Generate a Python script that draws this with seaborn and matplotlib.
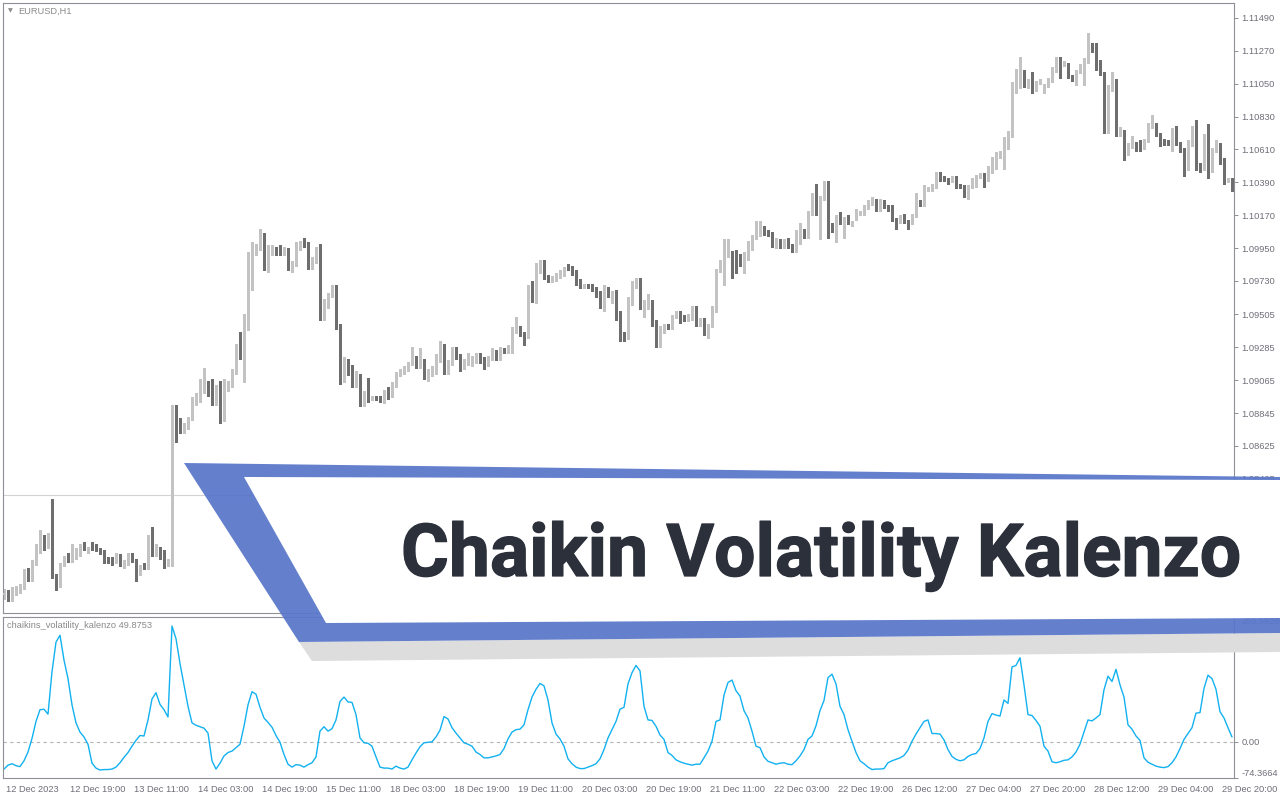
import numpy as np
import pandas as pd
import seaborn as sns
import matplotlib
matplotlib.use("Agg")
import matplotlib.pyplot as plt
import matplotlib.transforms as mtransforms
import matplotlib.patheffects as pe
from matplotlib.patches import Polygon

# ---- EURUSD H1 candles (bar 0 = 12 Dec 2023) ----
OPEN = [
    1.0763, 1.0764, 1.0760, 1.0764, 1.0765, 1.0768, 1.0778, 1.0777, 1.0784, 1.0792,
    1.0800, 1.0795, 1.0797, 1.0776, 1.0773, 1.0783, 1.0788, 1.0786, 1.0789, 1.0790,
    1.0796, 1.0792, 1.0797, 1.0796, 1.0793, 1.0792, 1.0787, 1.0786, 1.0785, 1.0789,
    1.0783, 1.0784, 1.0788, 1.0786, 1.0777, 1.0783, 1.0781, 1.0799, 1.0790, 1.0793,
    1.0792, 1.0783, 1.0784, 1.0887, 1.0880, 1.0873, 1.0876, 1.0881, 1.0892, 1.0895,
    1.0902, 1.0905, 1.0899, 1.0893, 1.0901, 1.0880, 1.0900, 1.0903, 1.0912, 1.0929,
    1.0923, 1.0943, 1.0990, 1.0992, 1.0995, 1.1004, 1.0983, 1.0993, 1.0994, 1.0995,
    1.0992, 1.0993, 1.0981, 1.0984, 1.0996, 1.0999, 1.0997, 1.0984, 1.0987, 1.0993,
    1.0955, 1.0959, 1.0963, 1.0968, 1.0943, 1.0916, 1.0919, 1.0915, 1.0905, 1.0910,
    1.0892, 1.0898, 1.0894, 1.0895, 1.0895, 1.0893, 1.0900, 1.0896, 1.0904, 1.0910,
    1.0912, 1.0914, 1.0918, 1.0921, 1.0917, 1.0919, 1.0910, 1.0911, 1.0912, 1.0920,
    1.0929, 1.0913, 1.0918, 1.0927, 1.0923, 1.0916, 1.0918, 1.0918, 1.0919, 1.0923,
    1.0920, 1.0917, 1.0921, 1.0925, 1.0922, 1.0927, 1.0927, 1.0927, 1.0940, 1.0941,
    1.0938, 1.0936, 1.0968, 1.0961, 1.0979, 1.0986, 1.0976, 1.0974, 1.0974, 1.0976,
    1.0977, 1.0983, 1.0982, 1.0979, 1.0973, 1.0969, 1.0970, 1.0970, 1.0968, 1.0964,
    1.0958, 1.0966, 1.0960, 1.0964, 1.0952, 1.0937, 1.0936, 1.0960, 1.0969, 1.0974,
    1.0955, 1.0957, 1.0959, 1.0946, 1.0930, 1.0939, 1.0943, 1.0942, 1.0949, 1.0952,
    1.0949, 1.0948, 1.0948, 1.0954, 1.0944, 1.0947, 1.0938, 1.0943, 1.0953, 1.0980,
    1.0979, 1.0990, 1.0992, 1.0990, 1.0990, 1.0985, 1.0989, 1.0998, 1.1002, 1.1005,
    1.1008, 1.1006, 1.1005, 1.0997, 1.1000, 1.0997, 1.1000, 1.0997, 1.0993, 1.0999,
    1.1007, 1.1003, 1.1018, 1.1025, 1.1018, 1.1028, 1.1038, 1.1011, 1.1007, 1.1016,
    1.1012, 1.1016, 1.1011, 1.1016, 1.1018, 1.1018, 1.1022, 1.1025, 1.1027, 1.1021,
    1.1026, 1.1023, 1.1023, 1.1014, 1.1013, 1.1016, 1.1013, 1.1012, 1.1017, 1.1026,
    1.1024, 1.1034, 1.1034, 1.1036, 1.1044, 1.1042, 1.1041, 1.1040, 1.1042, 1.1037,
    1.1036, 1.1031, 1.1036, 1.1041, 1.1043, 1.1043, 1.1041, 1.1046, 1.1054, 1.1056,
    1.1058, 1.1068, 1.1070, 1.1104, 1.1107, 1.1113, 1.1104, 1.1107, 1.1101, 1.1106,
    1.1100, 1.1104, 1.1107, 1.1114, 1.1121, 1.1118, 1.1118, 1.1110, 1.1108, 1.1113,
    1.1116, 1.1120, 1.1129, 1.1128, 1.1120, 1.1112, 1.1073, 1.1101, 1.1107, 1.1071,
    1.1073, 1.1063, 1.1063, 1.1065, 1.1066, 1.1062, 1.1067, 1.1076, 1.1078, 1.1071,
    1.1067, 1.1066, 1.1065, 1.1073, 1.1065, 1.1061, 1.1048, 1.1064, 1.1076, 1.1051,
    1.1048, 1.1069, 1.1047, 1.1060, 1.1064, 1.1054, 1.1040, 1.1041,
]
HIGH = [
    1.0767, 1.0766, 1.0768, 1.0769, 1.0770, 1.0780, 1.0781, 1.0786, 1.0797, 1.0806,
    1.0803, 1.0804, 1.0827, 1.0777, 1.0784, 1.0789, 1.0791, 1.0797, 1.0794, 1.0797,
    1.0798, 1.0795, 1.0798, 1.0797, 1.0794, 1.0793, 1.0788, 1.0788, 1.0791, 1.0790,
    1.0786, 1.0791, 1.0791, 1.0787, 1.0783, 1.0784, 1.0803, 1.0808, 1.0797, 1.0795,
    1.0793, 1.0787, 1.0890, 1.0890, 1.0881, 1.0878, 1.0882, 1.0895, 1.0898, 1.0907,
    1.0915, 1.0906, 1.0907, 1.0903, 1.0906, 1.0907, 1.0906, 1.0914, 1.0931, 1.0939,
    1.0951, 1.0992, 1.0999, 1.0998, 1.1008, 1.1005, 1.0997, 1.0997, 1.0996, 1.0997,
    1.0996, 1.0995, 1.0986, 1.0999, 1.1000, 1.1002, 1.0999, 1.0989, 1.0996, 1.0998,
    1.0961, 1.0965, 1.0970, 1.0970, 1.0944, 1.0922, 1.0921, 1.0917, 1.0913, 1.0911,
    1.0899, 1.0908, 1.0896, 1.0896, 1.0896, 1.0900, 1.0902, 1.0905, 1.0912, 1.0914,
    1.0916, 1.0919, 1.0929, 1.0923, 1.0928, 1.0921, 1.0914, 1.0916, 1.0924, 1.0933,
    1.0931, 1.0920, 1.0929, 1.0929, 1.0924, 1.0921, 1.0925, 1.0923, 1.0925, 1.0925,
    1.0922, 1.0923, 1.0928, 1.0927, 1.0929, 1.0928, 1.0930, 1.0942, 1.0949, 1.0943,
    1.0939, 1.0970, 1.0973, 1.0985, 1.0987, 1.0987, 1.0977, 1.0976, 1.0978, 1.0980,
    1.0982, 1.0984, 1.0983, 1.0980, 1.0974, 1.0971, 1.0971, 1.0971, 1.0969, 1.0966,
    1.0970, 1.0969, 1.0966, 1.0967, 1.0953, 1.0939, 1.0962, 1.0973, 1.0975, 1.0975,
    1.0960, 1.0964, 1.0960, 1.0947, 1.0943, 1.0944, 1.0944, 1.0950, 1.0953, 1.0953,
    1.0950, 1.0951, 1.0956, 1.0956, 1.0948, 1.0948, 1.0944, 1.0956, 1.0981, 1.0987,
    1.1001, 1.1001, 1.0993, 1.0994, 1.0991, 1.0992, 1.1000, 1.1004, 1.1013, 1.1013,
    1.1010, 1.1007, 1.1006, 1.1002, 1.1001, 1.1001, 1.1002, 1.0998, 1.1007, 1.1012,
    1.1008, 1.1020, 1.1032, 1.1038, 1.1030, 1.1040, 1.1040, 1.1012, 1.1017, 1.1019,
    1.1016, 1.1017, 1.1013, 1.1021, 1.1020, 1.1024, 1.1027, 1.1029, 1.1028, 1.1028,
    1.1027, 1.1024, 1.1024, 1.1015, 1.1017, 1.1018, 1.1014, 1.1018, 1.1032, 1.1027,
    1.1037, 1.1036, 1.1038, 1.1046, 1.1046, 1.1043, 1.1042, 1.1043, 1.1043, 1.1038,
    1.1037, 1.1037, 1.1042, 1.1044, 1.1045, 1.1045, 1.1050, 1.1056, 1.1059, 1.1060,
    1.1069, 1.1073, 1.1106, 1.1115, 1.1123, 1.1114, 1.1108, 1.1113, 1.1107, 1.1108,
    1.1105, 1.1109, 1.1116, 1.1123, 1.1123, 1.1120, 1.1119, 1.1111, 1.1114, 1.1118,
    1.1122, 1.1139, 1.1132, 1.1132, 1.1121, 1.1113, 1.1104, 1.1113, 1.1108, 1.1076,
    1.1074, 1.1065, 1.1070, 1.1066, 1.1067, 1.1068, 1.1079, 1.1084, 1.1079, 1.1072,
    1.1068, 1.1067, 1.1075, 1.1077, 1.1066, 1.1062, 1.1067, 1.1077, 1.1081, 1.1052,
    1.1071, 1.1078, 1.1062, 1.1067, 1.1065, 1.1055, 1.1042, 1.1042,
]
LOW = [
    1.0760, 1.0759, 1.0759, 1.0763, 1.0764, 1.0767, 1.0772, 1.0772, 1.0783, 1.0791,
    1.0793, 1.0794, 1.0774, 1.0766, 1.0768, 1.0782, 1.0785, 1.0785, 1.0787, 1.0789,
    1.0793, 1.0791, 1.0793, 1.0792, 1.0790, 1.0784, 1.0784, 1.0783, 1.0784, 1.0782,
    1.0781, 1.0783, 1.0785, 1.0772, 1.0776, 1.0780, 1.0780, 1.0789, 1.0789, 1.0787,
    1.0781, 1.0782, 1.0782, 1.0865, 1.0871, 1.0871, 1.0874, 1.0880, 1.0890, 1.0892,
    1.0898, 1.0896, 1.0890, 1.0890, 1.0878, 1.0879, 1.0899, 1.0902, 1.0911, 1.0921,
    1.0905, 1.0940, 1.0967, 1.0990, 1.0994, 1.0980, 1.0979, 1.0990, 1.0990, 1.0990,
    1.0990, 1.0980, 1.0979, 1.0983, 1.0994, 1.0996, 1.0981, 1.0981, 1.0985, 1.0947,
    1.0947, 1.0955, 1.0962, 1.0941, 1.0904, 1.0905, 1.0910, 1.0902, 1.0902, 1.0889,
    1.0889, 1.0892, 1.0893, 1.0893, 1.0892, 1.0891, 1.0894, 1.0895, 1.0902, 1.0909,
    1.0911, 1.0913, 1.0917, 1.0915, 1.0915, 1.0907, 1.0906, 1.0909, 1.0911, 1.0919,
    1.0911, 1.0911, 1.0917, 1.0921, 1.0913, 1.0914, 1.0917, 1.0916, 1.0918, 1.0918,
    1.0914, 1.0916, 1.0920, 1.0920, 1.0920, 1.0925, 1.0925, 1.0925, 1.0938, 1.0936,
    1.0930, 1.0935, 1.0959, 1.0958, 1.0978, 1.0974, 1.0972, 1.0972, 1.0973, 1.0975,
    1.0976, 1.0980, 1.0977, 1.0970, 1.0968, 1.0968, 1.0968, 1.0966, 1.0962, 1.0955,
    1.0953, 1.0962, 1.0958, 1.0947, 1.0933, 1.0933, 1.0934, 1.0957, 1.0968, 1.0954,
    1.0949, 1.0954, 1.0943, 1.0929, 1.0929, 1.0938, 1.0941, 1.0941, 1.0948, 1.0945,
    1.0946, 1.0946, 1.0947, 1.0943, 1.0943, 1.0937, 1.0935, 1.0942, 1.0952, 1.0979,
    1.0970, 1.0989, 1.0975, 1.0978, 1.0983, 1.0978, 1.0987, 1.0994, 1.1001, 1.1003,
    1.1004, 1.1003, 1.0996, 1.0995, 1.0995, 1.0995, 1.0995, 1.0992, 1.0992, 1.0998,
    1.1002, 1.1002, 1.1017, 1.1017, 1.1001, 1.1027, 1.1002, 1.1006, 1.0999, 1.1011,
    1.1002, 1.1011, 1.1010, 1.1014, 1.1017, 1.1017, 1.1021, 1.1024, 1.1020, 1.1020,
    1.1022, 1.1020, 1.1013, 1.1008, 1.1012, 1.1012, 1.1008, 1.1011, 1.1016, 1.1023,
    1.1023, 1.1033, 1.1033, 1.1035, 1.1040, 1.1040, 1.1038, 1.1039, 1.1035, 1.1035,
    1.1029, 1.1028, 1.1035, 1.1036, 1.1042, 1.1036, 1.1040, 1.1045, 1.1048, 1.1055,
    1.1048, 1.1061, 1.1069, 1.1099, 1.1102, 1.1103, 1.1102, 1.1099, 1.1100, 1.1105,
    1.1099, 1.1103, 1.1106, 1.1113, 1.1109, 1.1117, 1.1109, 1.1107, 1.1104, 1.1112,
    1.1104, 1.1119, 1.1126, 1.1114, 1.1111, 1.1072, 1.1072, 1.1100, 1.1070, 1.1070,
    1.1054, 1.1057, 1.1062, 1.1060, 1.1060, 1.1061, 1.1066, 1.1075, 1.1070, 1.1063,
    1.1064, 1.1064, 1.1060, 1.1064, 1.1059, 1.1043, 1.1047, 1.1063, 1.1047, 1.1046,
    1.1047, 1.1042, 1.1046, 1.1059, 1.1051, 1.1038, 1.1039, 1.1033,
]
CLOSE = [
    1.0764, 1.0760, 1.0767, 1.0767, 1.0768, 1.0778, 1.0776, 1.0784, 1.0792, 1.0800,
    1.0795, 1.0797, 1.0775, 1.0772, 1.0783, 1.0787, 1.0786, 1.0792, 1.0792, 1.0795,
    1.0794, 1.0794, 1.0794, 1.0793, 1.0791, 1.0786, 1.0786, 1.0785, 1.0789, 1.0783,
    1.0784, 1.0788, 1.0786, 1.0777, 1.0782, 1.0781, 1.0799, 1.0790, 1.0794, 1.0791,
    1.0783, 1.0785, 1.0887, 1.0880, 1.0873, 1.0876, 1.0881, 1.0893, 1.0895, 1.0903,
    1.0904, 1.0898, 1.0892, 1.0901, 1.0880, 1.0901, 1.0903, 1.0913, 1.0929, 1.0922,
    1.0943, 1.0990, 1.0992, 1.0996, 1.1004, 1.0982, 1.0995, 1.0994, 1.0992, 1.0992,
    1.0994, 1.0982, 1.0984, 1.0997, 1.0998, 1.0997, 1.0983, 1.0987, 1.0993, 1.0955,
    1.0959, 1.0963, 1.0968, 1.0943, 1.0916, 1.0919, 1.0916, 1.0905, 1.0910, 1.0892,
    1.0898, 1.0894, 1.0895, 1.0894, 1.0893, 1.0899, 1.0896, 1.0904, 1.0911, 1.0912,
    1.0915, 1.0918, 1.0921, 1.0917, 1.0919, 1.0910, 1.0912, 1.0913, 1.0921, 1.0929,
    1.0913, 1.0918, 1.0927, 1.0922, 1.0916, 1.0919, 1.0923, 1.0921, 1.0923, 1.0919,
    1.0917, 1.0921, 1.0925, 1.0922, 1.0927, 1.0926, 1.0928, 1.0941, 1.0941, 1.0938,
    1.0936, 1.0968, 1.0961, 1.0979, 1.0986, 1.0976, 1.0974, 1.0975, 1.0976, 1.0978,
    1.0980, 1.0981, 1.0979, 1.0972, 1.0970, 1.0970, 1.0969, 1.0968, 1.0964, 1.0958,
    1.0967, 1.0964, 1.0964, 1.0951, 1.0936, 1.0936, 1.0960, 1.0970, 1.0974, 1.0955,
    1.0958, 1.0960, 1.0946, 1.0930, 1.0941, 1.0943, 1.0942, 1.0949, 1.0952, 1.0948,
    1.0948, 1.0949, 1.0955, 1.0944, 1.0946, 1.0938, 1.0943, 1.0954, 1.0980, 1.0981,
    1.0990, 1.0992, 1.0989, 1.0989, 1.0985, 1.0990, 1.0999, 1.1003, 1.1012, 1.1008,
    1.1005, 1.1004, 1.0997, 1.1000, 1.0996, 1.1000, 1.0996, 1.0993, 1.1000, 1.1007,
    1.1003, 1.1019, 1.1025, 1.1018, 1.1029, 1.1036, 1.1011, 1.1007, 1.1016, 1.1012,
    1.1015, 1.1012, 1.1012, 1.1019, 1.1019, 1.1022, 1.1026, 1.1028, 1.1021, 1.1027,
    1.1023, 1.1021, 1.1014, 1.1013, 1.1016, 1.1013, 1.1012, 1.1017, 1.1026, 1.1024,
    1.1034, 1.1035, 1.1036, 1.1044, 1.1042, 1.1041, 1.1040, 1.1041, 1.1036, 1.1036,
    1.1030, 1.1036, 1.1041, 1.1043, 1.1044, 1.1040, 1.1046, 1.1054, 1.1056, 1.1059,
    1.1068, 1.1070, 1.1105, 1.1107, 1.1113, 1.1104, 1.1107, 1.1101, 1.1106, 1.1107,
    1.1104, 1.1108, 1.1115, 1.1121, 1.1118, 1.1118, 1.1110, 1.1108, 1.1113, 1.1116,
    1.1121, 1.1129, 1.1127, 1.1120, 1.1112, 1.1073, 1.1103, 1.1107, 1.1071, 1.1073,
    1.1063, 1.1064, 1.1066, 1.1061, 1.1061, 1.1067, 1.1076, 1.1078, 1.1071, 1.1064,
    1.1065, 1.1065, 1.1074, 1.1065, 1.1060, 1.1048, 1.1065, 1.1076, 1.1051, 1.1047,
    1.1069, 1.1046, 1.1061, 1.1064, 1.1052, 1.1039, 1.1041, 1.1038,
]

# chaikins_volatility_kalenzo, one value per bar
INDICATOR = [
    -56, -48, -45, -49, -51, -39, -21, 7, 42, 66,
    67, 57, 144, 205, 219, 168, 130, 76, 39, 20,
    10, -5, -44, -54, -58, -57, -57, -56, -52, -43,
    -32, -22, -9, 3, 13, 12, 45, 88, 101, 77,
    66, 51, 238, 212, 161, 117, 73, 39, 34, 31,
    28, 18, -39, -56, -44, -29, -22, -19, -12, -5,
    32, 76, 103, 98, 71, 49, 40, 30, 13, -1,
    -26, -46, -52, -47, -48, -52, -47, -43, -31, 22,
    31, 22, 27, 45, 83, 92, 82, 81, 56, 8,
    -2, -3, -9, -31, -52, -54, -54, -56, -50, -54,
    -56, -52, -37, -23, -10, -2, -1, 0, 10, 24,
    52, 47, 29, 18, 8, -2, -5, -9, -21, -26,
    -33, -33, -31, -29, -26, -14, 6, 20, 25, 26,
    35, 66, 92, 108, 120, 115, 86, 39, 16, 6,
    -9, -35, -45, -52, -55, -55, -52, -49, -45, -35,
    -16, 8, 25, 42, 67, 71, 119, 142, 157, 146,
    73, 45, 44, 32, 14, 5, -22, -28, -37, -41,
    -44, -46, -48, -46, -46, -33, -19, 1, 42, 45,
    96, 122, 127, 105, 94, 64, 49, 22, -9, -12,
    -31, -40, -43, -46, -44, -43, -46, -47, -39, -29,
    -16, 5, 12, 33, 64, 85, 132, 139, 119, 73,
    56, 25, 1, -22, -39, -45, -52, -57, -56, -56,
    -55, -43, -39, -36, -33, -28, -17, 1, 16, 29,
    42, 45, 17, 17, 16, 4, -16, -30, -36, -39,
    -37, -30, -26, -24, -14, 8, 42, 58, 55, 53,
    86, 79, 154, 157, 173, 117, 56, 54, 44, 32,
    -9, -19, -41, -43, -41, -38, -37, -31, -21, -5,
    20, 45, 43, 49, 56, 107, 135, 124, 149, 117,
    92, 35, 26, 12, 3, -33, -42, -46, -50, -52,
    -53, -51, -43, -31, -14, 5, 17, 29, 59, 60,
    110, 137, 130, 108, 62, 49, 29, 10,
]

PRICE_TICKS = [1.11490, 1.11270, 1.11050, 1.10830, 1.10610, 1.10390, 1.10170,
               1.09950, 1.09730, 1.09505, 1.09285, 1.09065, 1.08845, 1.08625,
               1.08405, 1.08185, 1.07965, 1.07745]
PRICE_LIMITS = (1.07507, 1.11590)
HLINE_PRICE = 1.0830

IND_TICKS = [256.5926, 0.0, -74.3664]
IND_TICK_LABELS = ["256.5926", "0.00", "-74.3664"]
IND_LIMITS = (-74.3664, 256.5926)

TIME_TICK_BARS = list(range(0, 305, 16))
TIME_LABELS = ["12 Dec 2023", "12 Dec 19:00", "13 Dec 11:00", "14 Dec 03:00",
               "14 Dec 19:00", "15 Dec 11:00", "18 Dec 03:00", "18 Dec 19:00",
               "19 Dec 11:00", "20 Dec 03:00", "20 Dec 19:00", "21 Dec 11:00",
               "22 Dec 03:00", "22 Dec 19:00", "26 Dec 12:00", "27 Dec 04:00",
               "27 Dec 20:00", "28 Dec 12:00", "29 Dec 04:00", "29 Dec 20:00"]

SYMBOL = "EURUSD,H1"
IND_NAME = "chaikins_volatility_kalenzo 49.8753"
TITLE = "Chaikin Volatility Kalenzo"

assert len(OPEN) == len(HIGH) == len(LOW) == len(CLOSE) == len(INDICATOR) == 308

# colours
BULL = "#c3c3c3"
BEAR = "#6e6e6e"
FRAME = "#8f8f97"
LABEL = "#6e6e78"
LINE = "#12b1f0"
BLUE = "#5876ca"
INK = "#2b303b"

sns.set_theme(style="white")
plt.rcParams["font.family"] = ["Liberation Sans", "DejaVu Sans"]

W, H = 1280, 800
fig = plt.figure(figsize=(W / 100, H / 100), dpi=100, facecolor="white")


def axes_px(left, top, right, bottom):
    return fig.add_axes([left / W, 1 - bottom / H, (right - left) / W, (bottom - top) / H])


ax = axes_px(3, 3, 1234, 613)
ax_ind = axes_px(3, 617, 1234, 778)

# price panel: candles
df = pd.DataFrame({"open": OPEN, "high": HIGH, "low": LOW, "close": CLOSE})
df["bar"] = np.arange(len(df))
colors = np.where(df["close"] >= df["open"], BULL, BEAR)
body_low = df[["open", "close"]].min(axis=1)
body_h = (df["close"] - df["open"]).abs().clip(lower=0.00008)

ax.axhline(HLINE_PRICE, color="#d4d4d4", lw=0.8, zorder=1)
ax.vlines(df["bar"], df["low"], df["high"], colors=colors, lw=0.75, zorder=2,
          antialiased=False)
ax.bar(df["bar"], body_h, bottom=body_low, width=0.75, color=colors, lw=0,
       zorder=3, antialiased=False)

# indicator panel
ind = pd.DataFrame({"bar": np.arange(len(INDICATOR)), "value": INDICATOR})
ax_ind.axhline(0, color="#b4b4b4", lw=0.8, ls=(0, (3, 3)), zorder=1)
sns.lineplot(data=ind, x="bar", y="value", ax=ax_ind, color=LINE, lw=1.0, zorder=2)

for a in (ax, ax_ind):
    a.set_xlim(-0.25, 307.5)
    a.set_facecolor("white")
    a.set_xlabel("")
    a.set_ylabel("")
    for s in a.spines.values():
        s.set_visible(True)
        s.set_color(FRAME)
        s.set_linewidth(0.8)
    a.yaxis.tick_right()
    a.tick_params(axis="y", direction="out", length=3, width=0.7, color=FRAME,
                  labelsize=6.7, labelcolor=LABEL, pad=2.5)

ax.set_ylim(*PRICE_LIMITS)
ax.set_yticks(PRICE_TICKS, [f"{p:.5f}" for p in PRICE_TICKS])
ax.set_xticks([])

ax_ind.set_ylim(*IND_LIMITS)
ax_ind.set_yticks(IND_TICKS, IND_TICK_LABELS)
ind_lbls = ax_ind.get_yticklabels()
ind_lbls[0].set_va("top")
ind_lbls[-1].set_va("bottom")

ax_ind.set_xticks(TIME_TICK_BARS, TIME_LABELS)
ax_ind.tick_params(axis="x", direction="out", length=3, width=0.7, color=FRAME,
                   labelsize=6.7, labelcolor=LABEL, pad=2)
shift = mtransforms.ScaledTranslation(1.5 / 100, 0, fig.dpi_scale_trans)
for lbl in ax_ind.get_xticklabels():
    lbl.set_ha("left")
    lbl.set_transform(lbl.get_transform() + shift)

# overlay in pixel coordinates: captions and the title banner
ov = fig.add_axes([0, 0, 1, 1])
ov.set_xlim(0, W)
ov.set_ylim(H, 0)
ov.axis("off")
ov.patch.set_alpha(0)
ov.set_zorder(5)

ov.text(8, 11, "▼", fontsize=4.5, color="#8a8a8a", va="center", ha="left",
        family=["DejaVu Sans"])
ov.text(18, 11, SYMBOL, fontsize=6.7, color="#8a8a8a", va="center", ha="left")
ov.text(7, 626, IND_NAME, fontsize=6.7, color="#8a8a8a", va="center", ha="left")

ov.add_patch(Polygon([(299, 642), (1280, 633), (1280, 652), (312, 661)],
                     closed=True, fc="#dddddd", ec="none"))
ov.add_patch(Polygon([(184, 463), (1280, 477), (1280, 633), (299, 642)],
                     closed=True, fc=BLUE, ec="none", alpha=0.93))
ov.add_patch(Polygon([(244, 477), (1280, 480), (1280, 618), (326, 623)],
                     closed=True, fc="white", ec="none"))

# heavy title: bold face slightly thickened with a same-colour stroke, fitted to 400..1240 px
title = ov.text(401, 576, TITLE, fontsize=54, fontweight="bold", family=["Roboto"],
                color=INK, va="baseline", ha="left",
                path_effects=[pe.withStroke(linewidth=0.9, foreground=INK)])
fig.canvas.draw()
bb = title.get_window_extent()
title.set_fontsize(54 * 839 / bb.width)

fig.savefig("out.png", dpi=100, facecolor="white")
